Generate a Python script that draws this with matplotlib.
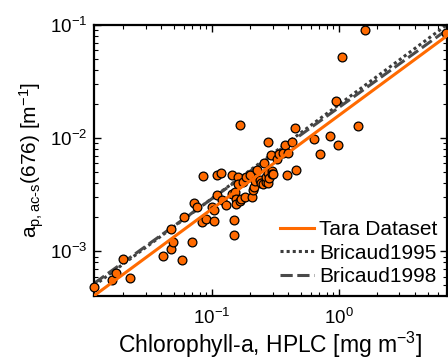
import numpy as np
import matplotlib
matplotlib.use("Agg")
import matplotlib.pyplot as plt
from matplotlib.ticker import LogLocator, LogFormatterMathtext, NullFormatter

plt.rcParams['font.family'] = ['Liberation Sans', 'DejaVu Sans']
plt.rcParams['mathtext.fontset'] = 'custom'
plt.rcParams['mathtext.rm'] = 'Liberation Sans'
plt.rcParams['mathtext.it'] = 'Liberation Sans'
plt.rcParams['mathtext.default'] = 'regular'

# Data
chl = [0.0118, 0.0162, 0.0174, 0.0198, 0.0226, 0.0414, 0.0479, 0.0479, 0.049, 0.0584,
       0.0605, 0.070, 0.0722, 0.0762, 0.0834, 0.0892, 0.085, 0.100, 0.103, 0.103,
       0.109, 0.1094, 0.1177, 0.120, 0.130, 0.143, 0.143, 0.148, 0.148, 0.152,
       0.154, 0.156, 0.160, 0.160, 0.166, 0.165, 0.170, 0.175, 0.181, 0.184,
       0.199, 0.206, 0.210, 0.214, 0.219, 0.227, 0.239, 0.245, 0.254, 0.257,
       0.265, 0.269, 0.274, 0.274, 0.278, 0.283, 0.290, 0.295, 0.299, 0.304,
       0.323, 0.339, 0.360, 0.375, 0.387, 0.399, 0.429, 0.448, 0.456, 0.636,
       0.713, 0.849, 0.953, 0.976, 1.056, 1.41, 1.62, 7.0]
ap676 = [4.82e-4, 5.6e-4, 6.43e-4, 8.55e-4, 5.83e-4, 9.16e-4, 1.58e-3, 1.05e-3, 1.21e-3, 8.32e-4,
         2.0e-3, 1.21e-3, 2.67e-3, 2.46e-3, 1.81e-3, 1.95e-3, 4.64e-3, 2.47e-3, 1.87e-3, 2.31e-3,
         4.77e-3, 3.16e-3, 4.92e-3, 2.87e-3, 2.56e-3, 4.73e-3, 3.19e-3, 1.88e-3, 1.40e-3, 3.34e-3,
         2.88e-3, 2.6e-3, 4.54e-3, 3.96e-3, 1.30e-2, 2.78e-3, 2.88e-3, 4.1e-3, 3.03e-3, 4.57e-3,
         4.73e-3, 3.01e-3, 3.5e-3, 3.72e-3, 4.18e-3, 5.24e-3, 4.27e-3, 4.04e-3, 3.96e-3, 6.08e-3,
         4.09e-3, 4.51e-3, 4.96e-3, 9.27e-3, 4.04e-3, 4.42e-3, 7.12e-3, 5.09e-3, 4.79e-3, 4.79e-3,
         6.6e-3, 7.31e-3, 7.41e-3, 8.67e-3, 4.7e-3, 7.36e-3, 9.27e-3, 1.24e-2, 5.24e-3, 9.93e-3,
         7.31e-3, 1.04e-2, 2.13e-2, 8.67e-3, 5.2e-2, 1.27e-2, 8.97e-2, 8.43e-2]

# Power-law fits a = A * chl^B
fit_names = ['Tara Dataset', 'Bricaud1995', 'Bricaud1998']
fit_A = [0.0159, 0.0198, 0.0187]
fit_B = [0.826, 0.829, 0.806]
fit_colors = ['#ff6a00', '#3c3c3c', '#4a4a4a']
fit_styles = ['-', (0, (1, 1)), (0, (4, 1.5))]

xlim = (0.01183, 7.05)
ylim = (4.06e-4, 0.1)

fig = plt.figure(figsize=(4.48, 3.63), dpi=100)
ax = fig.add_axes([0.2105, 0.1854, 0.7862, 0.7456])
ax.set_xscale('log')
ax.set_yscale('log')

xx = np.logspace(np.log10(xlim[0]), np.log10(xlim[1]), 50)
handles = {}
for i in [1, 2]:
    h, = ax.plot(xx, fit_A[i] * xx ** fit_B[i], color=fit_colors[i], ls=fit_styles[i], lw=2.2, zorder=2)
    handles[i] = h

ax.scatter(chl, ap676, s=40, c='#ff6a00', edgecolors='black', linewidths=0.9, zorder=3, clip_on=False)
h, = ax.plot(xx, fit_A[0] * xx ** fit_B[0], color=fit_colors[0], ls=fit_styles[0], lw=2.2, zorder=4)
handles[0] = h

ax.set_xlim(*xlim)
ax.set_ylim(*ylim)

for axis in (ax.xaxis, ax.yaxis):
    axis.set_major_locator(LogLocator(base=10))
    axis.set_minor_locator(LogLocator(base=10, subs=np.arange(2, 10)))
    axis.set_major_formatter(LogFormatterMathtext())
    axis.set_minor_formatter(NullFormatter())

ax.tick_params(which='both', direction='in', top=True, right=True, labelsize=13.5)
ax.tick_params(axis='x', which='major', pad=9)
ax.tick_params(axis='y', which='major', pad=5)
ax.tick_params(which='major', length=5, width=1)
ax.tick_params(which='minor', length=3, width=0.8)
for s in ax.spines.values():
    s.set_linewidth(1.6)

ax.set_xlabel('Chlorophyll-a, HPLC [mg m$^{-3}$]', fontsize=16.5, labelpad=1)
ax.set_ylabel('a$_{p,ac\u2010s}$(676) [m$^{-1}$]', fontsize=15, labelpad=3)

leg = ax.legend([handles[0], handles[1], handles[2]], fit_names, loc='lower right',
                frameon=False, fontsize=15, handlelength=1.6, handletextpad=0.25,
                labelspacing=0.22, borderaxespad=0.35, borderpad=0.1)

fig.savefig('out.png', dpi=100)
